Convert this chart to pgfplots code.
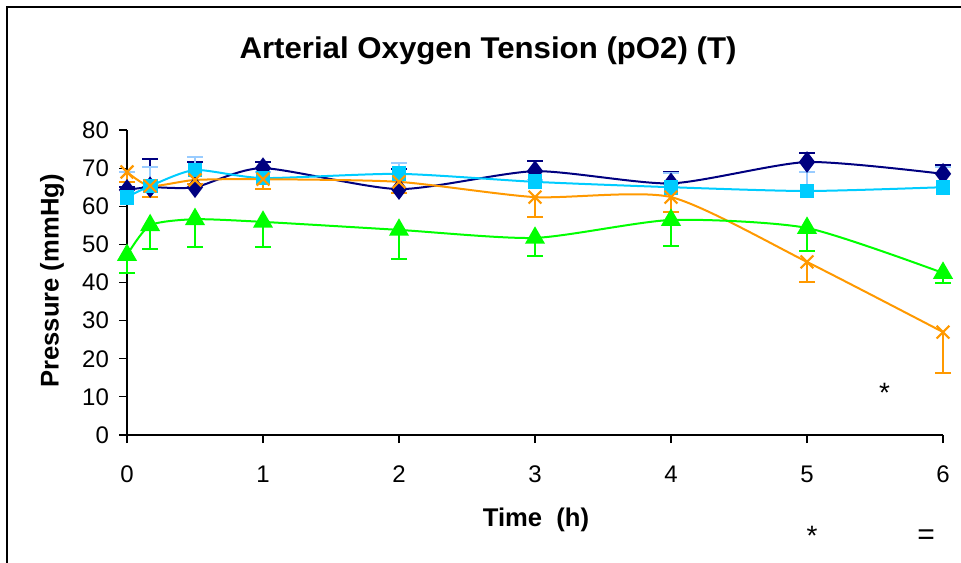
\documentclass[border=0pt]{standalone}
\usepackage{fontspec}
\setmainfont{Liberation Sans}
\usepackage{pgfplots}
\usepackage{pgfplotstable}
\pgfplotsset{compat=1.18}
\definecolor{cNavy}{HTML}{000080}
\definecolor{cCyan}{HTML}{00CCFF}
\definecolor{cPale}{HTML}{99CCFF}
\definecolor{cOrange}{HTML}{FF9900}
\definecolor{cGreen}{HTML}{00FF00}

\pgfplotstableread{
t y e
0 64.3 0.8
0.17 65.0 7.5
0.5 65.0 6.6
1 70.0 1.6
2 64.5 5.2
3 69.2 2.7
4 66.0 3.0
5 71.6 2.4
6 68.5 2.3
}\navy
\pgfplotstableread{
t y e
0 62.4 6.6
0.17 65.3 5.0
0.5 69.5 3.4
1 67.4 1.5
2 68.5 2.8
3 66.4 0.6
4 65.0 3.7
5 64.0 5.0
6 65.0 5.4
}\cyan
\pgfplotstableread{
t y e
0 69.0 2.6
0.17 65.3 2.9
0.5 66.9 1.0
1 67.1 2.6
2 66.4 2.9
3 62.4 5.2
4 62.4 3.9
5 45.4 5.3
6 27.0 10.7
}\orange
\pgfplotstableread{
t y e
0 47.2 4.7
0.17 55.0 6.2
0.5 56.6 7.3
1 55.9 6.6
2 53.8 7.6
3 51.7 4.7
4 56.4 6.8
5 54.3 6.0
6 42.5 2.6
}\green

\begin{document}
\begin{tikzpicture}
\useasboundingbox (0,0) rectangle (480.5pt,281pt);
\draw[line width=1pt] (3.5pt,-2pt) -- (3.5pt,277.5pt) -- (483pt,277.5pt);
\node[font=\fontsize{15}{17}\selectfont\bfseries] at (244pt,255.5pt) {\scalebox{1.04}[1]{Arterial Oxygen Tension (pO2) (T)}};
\node[font=\fontsize{12.8}{15}\selectfont\bfseries] at (268pt,21pt) {Time\ \ (h)};
\node[font=\fontsize{12.8}{15}\selectfont\bfseries, rotate=90] at (26pt,140.5pt) {Pressure (mmHg)};
\node[font=\fontsize{14}{16}\selectfont] at (406pt,13pt) {*};
\node[font=\fontsize{15}{17}\selectfont] at (463pt,12.5pt) {=};
\begin{axis}[
  at={(63.5pt,63.5pt)}, anchor=south west,
  scale only axis, width=408pt, height=152.5pt,
  xmin=0, xmax=6, ymin=0, ymax=80,
  axis x line=bottom, axis y line=left,
  axis line style={-, line width=0.6pt},
  xtick={0,1,2,3,4,5,6}, ytick={0,10,20,30,40,50,60,70,80},
  tick align=outside, major tick length=4pt,
  tick style={black, line width=0.6pt},
  ticklabel style={font=\fontsize{12}{14}\selectfont},
  xticklabel style={yshift=-8pt},
  yticklabel style={xshift=-1.5pt},
  /pgf/number format/assume math mode=true,
  clip=false,
]
\addplot[cNavy, line width=1pt, smooth, tension=0.4, mark=diamond*, mark size=4.6pt, mark options={solid, fill=cNavy},
  error bars/.cd, y dir=plus, y explicit, error bar style={cNavy, line width=1pt},
  error mark options={rotate=90, mark size=4pt, line width=1pt, cNavy}]
  table[x=t, y=y, y error=e] {\navy};
\addplot[cCyan, line width=1pt, smooth, tension=0.4, mark=square*, mark size=3.2pt, mark options={solid, fill=cCyan},
  error bars/.cd, y dir=plus, y explicit, error bar style={cPale, line width=1pt},
  error mark options={rotate=90, mark size=4pt, line width=1pt, cPale}]
  table[x=t, y=y, y error=e] {\cyan};
\addplot[cOrange, line width=1pt, smooth, tension=0.4, mark=x, mark size=4.5pt, mark options={solid, line width=1.1pt},
  error bars/.cd, y dir=minus, y explicit, error bar style={cOrange, line width=1pt},
  error mark options={rotate=90, mark size=4pt, line width=1pt, cOrange}]
  table[x=t, y=y, y error=e] {\orange};
\addplot[cGreen, line width=1pt, smooth, tension=0.4, mark=triangle*, mark size=4.8pt, mark options={solid, fill=cGreen},
  error bars/.cd, y dir=minus, y explicit, error bar style={cGreen, line width=1pt},
  error mark options={rotate=90, mark size=4pt, line width=1pt, cGreen}]
  table[x=t, y=y, y error=e] {\green};
\node[font=\fontsize{14}{16}\selectfont] at (axis cs:5.57,11) {*};
\end{axis}
\end{tikzpicture}
\end{document}
